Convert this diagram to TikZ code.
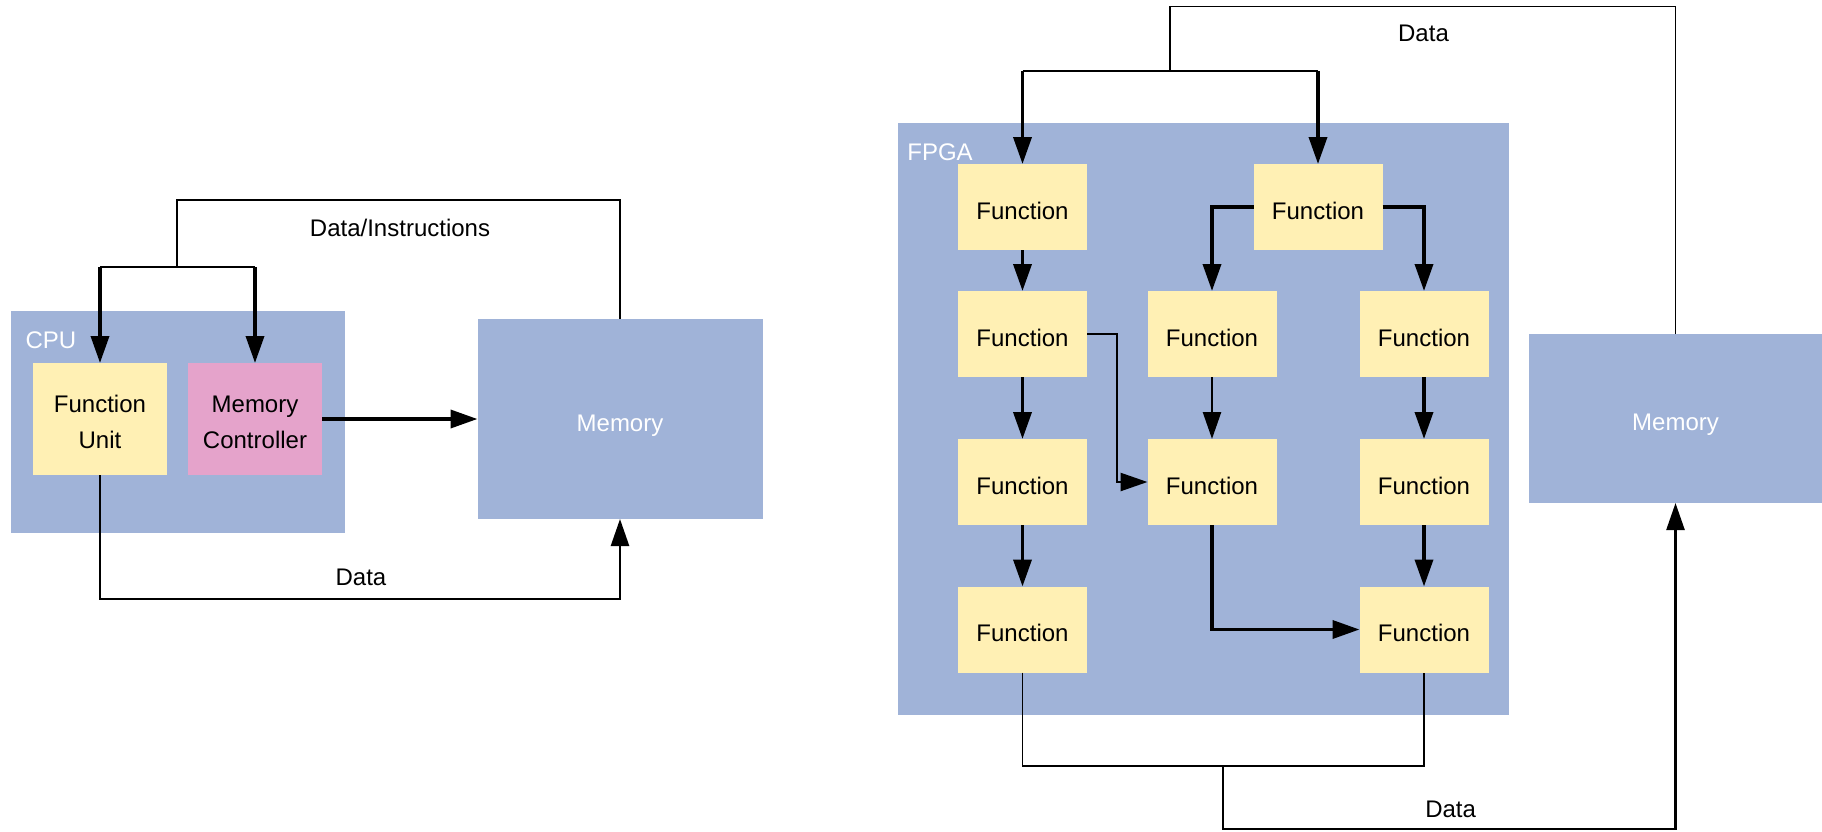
\documentclass[tikz,border=0pt]{standalone}
\usepackage{fontspec}
\setmainfont{Liberation Sans}
\usetikzlibrary{arrows.meta}
\definecolor{boxblue}{RGB}{160,179,216}
\definecolor{fnyellow}{RGB}{255,240,180}
\definecolor{ctlpink}{RGB}{229,163,203}

\begin{document}
\begin{tikzpicture}[x=0.5pt,y=-0.5pt,
  every node/.style={font=\fontsize{12}{18}\selectfont, inner sep=0pt, outer sep=0pt},
  region/.style={fill=boxblue, draw=none},
  boxtext/.style={text height=12pt, text depth=0pt},
  fn/.style={fill=fnyellow, minimum width=64.5pt, minimum height=43pt, boxtext},
  unitbox/.style={minimum width=67pt, minimum height=56pt},
  twoline/.style={align=center, yshift=-1.5pt},
  thinw/.style={line width=0.6pt},
  medw/.style={line width=1.25pt},
  thickw/.style={line width=1.8pt},
  arr/.style={-{Triangle[length=13.5pt,width=9pt]}},
  lbl/.style={text=white},
  line join=miter]

\useasboundingbox (0,0) rectangle (1822,831);

% ---------------- CPU side ----------------
\node[region, minimum width=167pt, minimum height=111pt] (cpu) at (178,422) {};
\node[lbl] (cpulbl) at (51,340) {CPU};
\node[unitbox, fill=fnyellow] (fu) at (100,419) {};
\node[twoline] (futext) at (fu) {Function\\Unit};
\node[unitbox, fill=ctlpink] (mc) at (255,419) {};
\node[twoline] (mctext) at (mc) {Memory\\Controller};
\node[region, lbl, boxtext, minimum width=142.5pt, minimum height=100pt] (mem1) at (620,419) {Memory};

\coordinate (jl) at (177,267);
\draw[thinw] (mem1.north) |- (177,200) -- (jl);
\draw[medw] (fu.north |- jl) -- (mc.north |- jl);
\draw[thickw,arr] (fu.north |- jl) -- (fu.north);
\draw[thickw,arr] (mc.north |- jl) -- (mc.north);
\node (dilbl) at (400,228) {Data/Instructions};

\draw[thickw,arr] (mc.east) -- (mem1.west);

\draw[medw,arr] (fu.south) |- (mem1.south |- 0,599) -- (mem1.south);
\node (dl1) at (361,577) {Data};

% ---------------- FPGA side ----------------
\node[region, minimum width=305.5pt, minimum height=296pt] (fpga) at (1203.5,419) {};
\node[lbl] (fpgalbl) at (940,152) {FPGA};

\node[fn] (f11) at (1022.5,207) {Function};
\node[fn] (ftr) at (1318,207) {Function};
\node[fn] (f12) at (1022.5,334) {Function};
\node[fn] (f22) at (1212,334) {Function};
\node[fn] (f32) at (1424,334) {Function};
\node[fn] (f13) at (1022.5,482) {Function};
\node[fn] (f23) at (1212,482) {Function};
\node[fn] (f33) at (1424,482) {Function};
\node[fn] (f14) at (1022.5,629.5) {Function};
\node[fn] (f34) at (1424,629.5) {Function};

\node[region, lbl, boxtext, minimum width=146.5pt, minimum height=84.5pt] (mem2) at (1675.5,418.5) {Memory};

% data in from memory
\coordinate (jr) at (1170,71);
\draw[thinw] (mem2.north) |- (1170,6.7) -- (jr);
\draw[medw] (f11.north |- jr) -- (ftr.north |- jr);
\draw[thickw,arr] (f11.north |- jr) -- (f11.north);
\draw[thickw,arr] (ftr.north |- jr) -- (ftr.north);
\node (dl2) at (1423.5,33) {Data};

% fan-out from the top function
\draw[thickw,arr] (ftr.west) -| (f22.north);
\draw[thickw,arr] (ftr.east) -| (f32.north);

% columns
\draw[thickw,arr] (f11.south) -- (f12.north);
\draw[thickw,arr] (f12.south) -- (f13.north);
\draw[thickw,arr] (f13.south) -- (f14.north);
\draw[medw,arr] (f22.south) -- (f23.north);
\draw[thickw,arr] (f32.south) -- (f33.north);
\draw[thickw,arr] (f33.south) -- (f34.north);

% cross links
\draw[medw,arr] (f12.east) -- ++(30,0) |- (f23.west);
\draw[thickw,arr] (f23.south) |- (f34.west);

% results back to memory
\coordinate (br) at (1223,766);
\draw[thinw] (f14.south) |- (br) -| (f34.south);
\draw[medw,arr] (br) -- (br |- 0,829) -| (mem2.south);
\node (dl3) at (1450.6,809) {Data};
\end{tikzpicture}
\end{document}
